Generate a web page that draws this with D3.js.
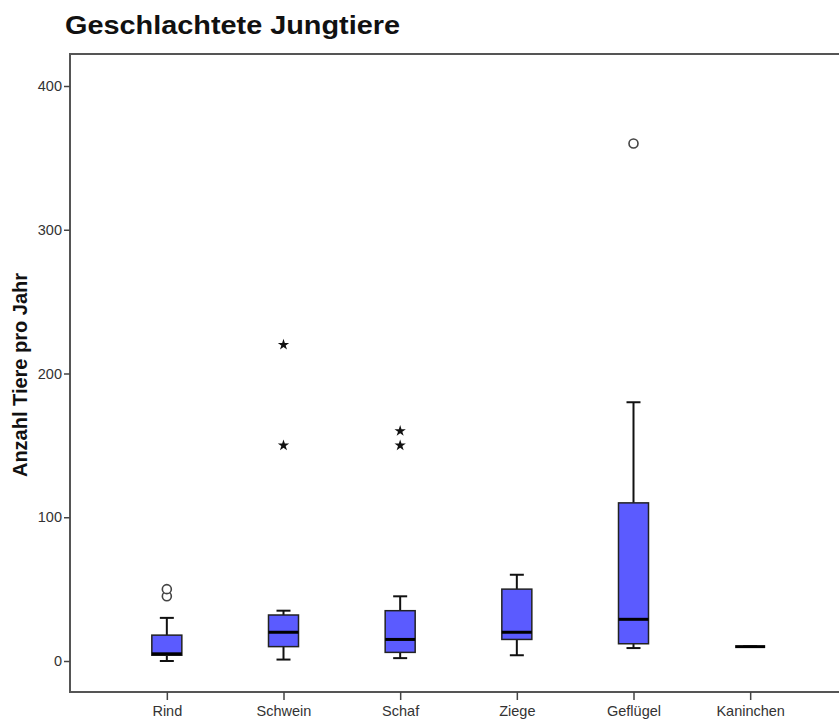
<!DOCTYPE html>
<html>
<head>
<meta charset="utf-8">
<script src="https://cdn.jsdelivr.net/npm/d3@7/dist/d3.min.js"></script>
<style>
  html, body { margin: 0; padding: 0; background: #fff; }
  svg { display: block; }
  text { font-family: "Liberation Sans", Arial, sans-serif; }
</style>
</head>
<body>
<script>
// Boxplot: young animals slaughtered per year, by species
const categories   = ["Rind", "Schwein", "Schaf", "Ziege", "Geflügel", "Kaninchen"];
const whiskerLow   = [0, 1, 2, 4, 9, 10];
const q1           = [4, 10, 6, 15, 12, 10];
const median       = [5, 20, 15, 20, 29, 10];
const q3           = [18, 32, 35, 50, 110, 10];
const whiskerHigh  = [30, 35, 45, 60, 180, 10];
// mild outliers (circles) and extreme values (stars)
const outlierCat   = ["Rind", "Rind", "Geflügel"];
const outlierVal   = [45, 50, 360];
const extremeCat   = ["Schwein", "Schwein", "Schaf", "Schaf"];
const extremeVal   = [150, 220, 150, 160];
const yTicks       = [0, 100, 200, 300, 400];

const W = 839, H = 724;
const frame = { left: 70, top: 54, right: 847, bottom: 692 };

const svg = d3.select("body").append("svg").attr("width", W).attr("height", H);

const x = d3.scalePoint().domain(categories).range([frame.left, frame.right]).padding(0.83);
const y = d3.scaleLinear().domain([0, 400]).range([661, 86]);

// title
svg.append("text")
  .attr("x", 65).attr("y", 34)
  .attr("font-size", 26).attr("font-weight", "bold").attr("fill", "#111")
  .attr("textLength", 335).attr("lengthAdjust", "spacingAndGlyphs")
  .text("Geschlachtete Jungtiere");

// plot frame
svg.append("rect")
  .attr("x", frame.left).attr("y", frame.top)
  .attr("width", frame.right - frame.left).attr("height", frame.bottom - frame.top)
  .attr("fill", "none").attr("stroke", "#555").attr("stroke-width", 2);

// y axis
const yAxis = svg.append("g")
  .attr("transform", `translate(${frame.left},0)`)
  .call(d3.axisLeft(y).tickValues(yTicks).tickSize(6).tickPadding(2));
yAxis.select(".domain").remove();
yAxis.selectAll(".tick line").attr("stroke", "#444").attr("stroke-width", 1.5);
yAxis.selectAll(".tick text").attr("font-size", 14.5).attr("fill", "#333")
  .attr("font-family", "Liberation Sans, Arial, sans-serif");

// x axis
const xAxis = svg.append("g")
  .attr("transform", `translate(0,${frame.bottom})`)
  .call(d3.axisBottom(x).tickSize(8).tickPadding(6));
xAxis.select(".domain").remove();
xAxis.selectAll(".tick line").attr("stroke", "#444").attr("stroke-width", 1.5);
xAxis.selectAll(".tick text").attr("font-size", 14.5).attr("fill", "#333")
  .attr("font-family", "Liberation Sans, Arial, sans-serif");

// y axis title
svg.append("text")
  .attr("transform", `translate(27,375) rotate(-90)`)
  .attr("text-anchor", "middle")
  .attr("font-size", 20).attr("font-weight", "bold").attr("fill", "#111")
  .text("Anzahl Tiere pro Jahr");

// boxes
const boxW = 30, capW = 14;
const rows = categories.map((c, i) => ({
  c, lo: whiskerLow[i], q1: q1[i], med: median[i], q3: q3[i], hi: whiskerHigh[i]
}));

const g = svg.append("g");
const box = g.selectAll("g.box").data(rows).join("g").attr("class", "box");

// whiskers
box.append("line")
  .attr("x1", d => x(d.c)).attr("x2", d => x(d.c))
  .attr("y1", d => y(d.hi)).attr("y2", d => y(d.q3))
  .attr("stroke", "#111").attr("stroke-width", 2);
box.append("line")
  .attr("x1", d => x(d.c)).attr("x2", d => x(d.c))
  .attr("y1", d => y(d.q1)).attr("y2", d => y(d.lo))
  .attr("stroke", "#111").attr("stroke-width", 2);
box.append("line")
  .attr("x1", d => x(d.c) - capW / 2).attr("x2", d => x(d.c) + capW / 2)
  .attr("y1", d => y(d.hi)).attr("y2", d => y(d.hi))
  .attr("stroke", "#111").attr("stroke-width", 2);
box.append("line")
  .attr("x1", d => x(d.c) - capW / 2).attr("x2", d => x(d.c) + capW / 2)
  .attr("y1", d => y(d.lo)).attr("y2", d => y(d.lo))
  .attr("stroke", "#111").attr("stroke-width", 2);

// interquartile box
box.append("rect")
  .attr("x", d => x(d.c) - boxW / 2).attr("width", boxW)
  .attr("y", d => y(d.q3)).attr("height", d => y(d.q1) - y(d.q3))
  .attr("fill", "#5b5bff").attr("stroke", "#222").attr("stroke-width", 1.5);

// median
box.append("line")
  .attr("x1", d => x(d.c) - boxW / 2).attr("x2", d => x(d.c) + boxW / 2)
  .attr("y1", d => y(d.med)).attr("y2", d => y(d.med))
  .attr("stroke", "#000").attr("stroke-width", 3);

// outliers
g.selectAll("circle.out").data(outlierVal).join("circle").attr("class", "out")
  .attr("cx", (v, i) => x(outlierCat[i])).attr("cy", v => y(v))
  .attr("r", 4.5).attr("fill", "#fff").attr("stroke", "#444").attr("stroke-width", 1.6);

// extreme values
const star = d3.symbol().type(d3.symbolStar).size(40);
g.selectAll("path.ext").data(extremeVal).join("path").attr("class", "ext")
  .attr("transform", (v, i) => `translate(${x(extremeCat[i])},${y(v)})`)
  .attr("d", star).attr("fill", "#111");
</script>
</body>
</html>
